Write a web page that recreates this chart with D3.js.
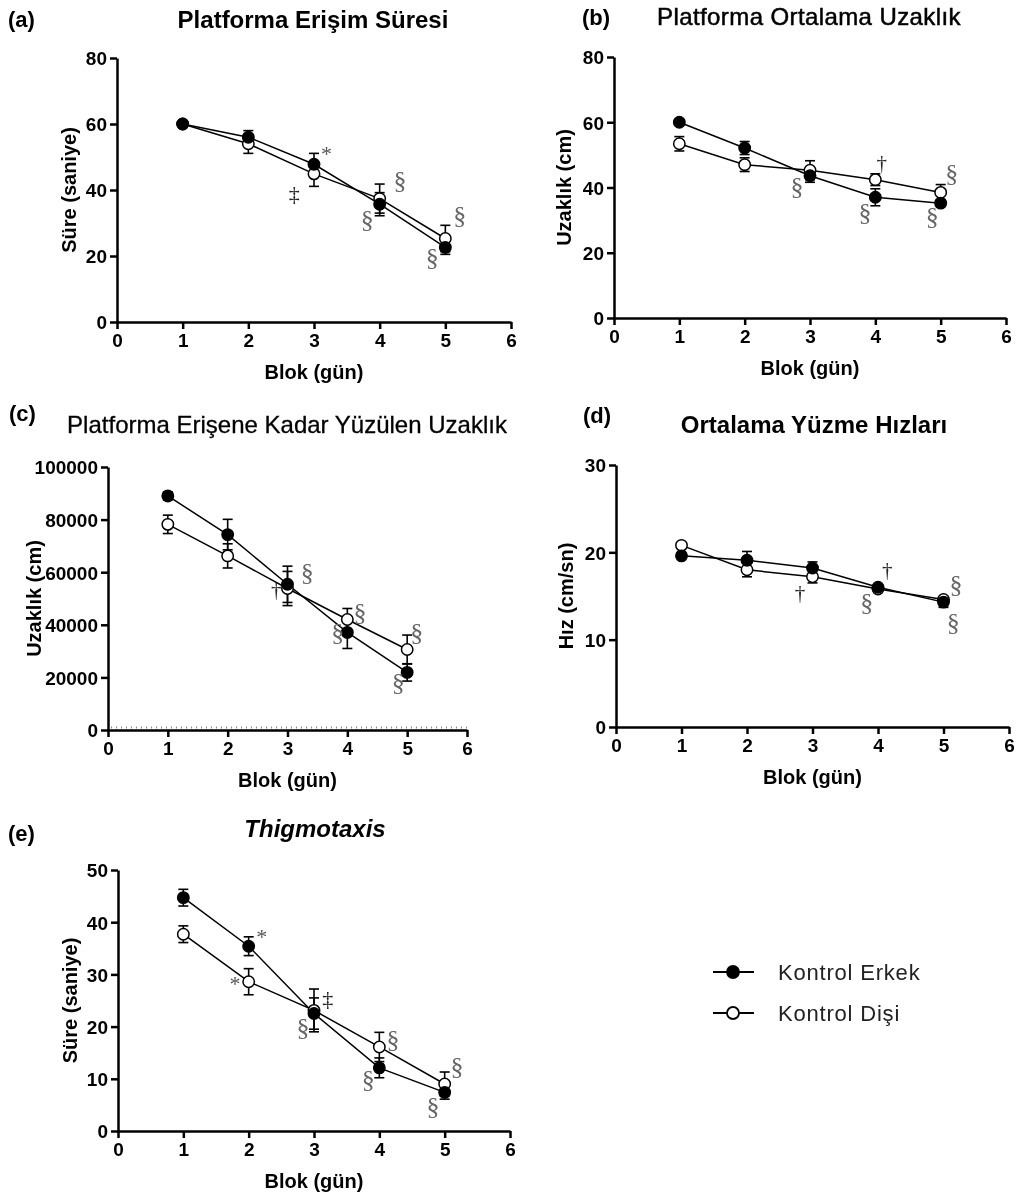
<!DOCTYPE html>
<html>
<head>
<meta charset="utf-8">
<script src="https://cdn.jsdelivr.net/npm/d3@7"></script>
<style>
  body { margin: 0; background: #fff; }
  svg { display: block; filter: grayscale(1); }
</style>
</head>
<body>
<script>
// ---- data: training blocks (days) ----
const blocks = [1, 2, 3, 4, 5];
const xTicks = [0, 1, 2, 3, 4, 5, 6];

// (a) escape latency (s)
const latencyMale = [60, 56.0, 47.8, 35.7, 22.6];
const latencyMaleSem = [0, 2.0, 3.3, 3.5, 2.1];
const latencyFemale = [60, 54.0, 44.9, 37.4, 25.3];
const latencyFemaleSem = [0, 2.9, 3.8, 4.4, 4.0];
const latencyTicks = [0, 20, 40, 60, 80];

// (b) mean distance to platform (cm)
const meanDistMale = [60.0, 52.1, 43.6, 37.0, 35.2];
const meanDistMaleSem = [0.8, 2.0, 2.0, 2.6, 1.0];
const meanDistFemale = [53.4, 47.0, 45.3, 42.4, 38.5];
const meanDistFemaleSem = [2.2, 2.1, 2.9, 1.8, 2.4];
const meanDistTicks = [0, 20, 40, 60, 80];

// (c) path length to platform (cm)
const pathMale = [89000, 74300, 55400, 37100, 21900];
const pathMaleSem = [1500, 5800, 6900, 6100, 3300];
const pathFemale = [78200, 66200, 53800, 42000, 30600];
const pathFemaleSem = [3500, 4600, 6500, 4200, 5500];
const pathTicks = [0, 20000, 40000, 60000, 80000, 100000];

// (d) mean swim speed (cm/s)
const speedMale = [19.6, 19.1, 18.2, 16.0, 14.3];
const speedMaleSem = [0.3, 1.0, 0.7, 0.3, 0.6];
const speedFemale = [20.8, 18.0, 17.2, 15.8, 14.6];
const speedFemaleSem = [0.2, 0.8, 0.7, 0.3, 0.3];
const speedTicks = [0, 10, 20, 30];

// (e) thigmotaxis time (s)
const thigMale = [44.7, 35.4, 22.5, 12.1, 7.4];
const thigMaleSem = [1.6, 1.8, 3.0, 1.9, 1.3];
const thigFemale = [37.7, 28.6, 23.1, 16.1, 9.0];
const thigFemaleSem = [1.6, 2.5, 4.1, 2.8, 2.3];
const thigTicks = [0, 10, 20, 30, 40, 50];

// significance marks: [glyph, block, value]
const notesA = [["*", 3.19, 51], ["‡", 2.70, 39], ["§", 4.31, 43], ["§", 3.81, 31], ["§", 5.22, 32.4], ["§", 4.80, 19.4]];
const notesB = [["§", 2.80, 40.2], ["†", 4.10, 47.5], ["§", 3.84, 32.2], ["§", 5.17, 44.4], ["§", 4.87, 31]];
const notesC = [["§", 3.33, 59700], ["†", 2.81, 53200], ["§", 4.21, 44500], ["§", 3.84, 36900], ["§", 5.16, 36900], ["§", 4.85, 17900]];
const notesD = [["†", 2.81, 15.3], ["†", 4.14, 18.0], ["§", 3.83, 14.3], ["§", 5.19, 16.3], ["§", 5.15, 12.0]];
const notesE = [["*", 2.20, 37.2], ["*", 1.79, 28.2], ["‡", 3.21, 25.3], ["§", 2.83, 19.9], ["§", 4.21, 17.6], ["§", 3.83, 9.8], ["§", 5.19, 12.3], ["§", 4.82, 4.6]];

const seriesNames = ["Kontrol Erkek", "Kontrol Dişi"];

// ---- layout ----
const SANS = "'Liberation Sans', Arial, Helvetica, sans-serif";
const SERIF = "'Liberation Serif', 'Times New Roman', serif";

const panels = [
  { letter: "(a)", letterX: 8, letterY: 27,
    title: "Platforma Erişim Süresi", titleX: 313, titleY: 28, titleWeight: "bold", titleStyle: "normal", titleSpacing: 0,
    left: 117, right: 511, top: 58, bottom: 322, yTicks: latencyTicks,
    yLabel: "Süre (saniye)", yLabelX: 69,
    male: latencyMale, maleSem: latencyMaleSem, female: latencyFemale, femaleSem: latencyFemaleSem, notes: notesA },
  { letter: "(b)", letterX: 582, letterY: 25,
    title: "Platforma Ortalama Uzaklık", titleX: 809, titleY: 25, titleWeight: "normal", titleStyle: "normal", titleSpacing: 0.4, titleStroke: 0.5,
    left: 614, right: 1006, top: 57, bottom: 318, yTicks: meanDistTicks,
    yLabel: "Uzaklık (cm)", yLabelX: 564,
    male: meanDistMale, maleSem: meanDistMaleSem, female: meanDistFemale, femaleSem: meanDistFemaleSem, notes: notesB },
  { letter: "(c)", letterX: 9, letterY: 421,
    title: "Platforma  Erişene Kadar Yüzülen Uzaklık", titleX: 287, titleY: 433, titleWeight: "normal", titleStyle: "normal", titleSpacing: 0, titleStroke: 0.3,
    left: 108, right: 467, top: 467, bottom: 730, yTicks: pathTicks, dottedBase: true,
    yLabel: "Uzaklık (cm)", yLabelX: 34,
    male: pathMale, maleSem: pathMaleSem, female: pathFemale, femaleSem: pathFemaleSem, notes: notesC },
  { letter: "(d)", letterX: 583, letterY: 423,
    title: "Ortalama Yüzme Hızları", titleX: 814, titleY: 433, titleWeight: "bold", titleStyle: "normal", titleSpacing: 0,
    left: 616, right: 1009, top: 465, bottom: 727, yTicks: speedTicks,
    yLabel: "Hız (cm/sn)", yLabelX: 566,
    male: speedMale, maleSem: speedMaleSem, female: speedFemale, femaleSem: speedFemaleSem, notes: notesD },
  { letter: "(e)", letterX: 8, letterY: 841,
    title: "Thigmotaxis", titleX: 315, titleY: 837, titleWeight: "bold", titleStyle: "italic", titleSpacing: 0,
    left: 118, right: 510, top: 870, bottom: 1131, yTicks: thigTicks,
    yLabel: "Süre (saniye)", yLabelX: 70,
    male: thigMale, maleSem: thigMaleSem, female: thigFemale, femaleSem: thigFemaleSem, notes: notesE }
];

const svg = d3.select("body").append("svg")
  .attr("width", 1017).attr("height", 1197)
  .style("font-family", SANS);

const noteColor = { "§": "#666", "*": "#555", "†": "#2a2a2a", "‡": "#222" };
const noteSize = { "§": 26, "*": 22, "†": 21, "‡": 22 };

panels.forEach(p => {
  const g = svg.append("g");
  const x = d3.scaleLinear().domain([0, 6]).range([p.left, p.right]);
  const y = d3.scaleLinear().domain([0, d3.max(p.yTicks)]).range([p.bottom, p.top]);

  // panel letter and title
  g.append("text").attr("x", p.letterX).attr("y", p.letterY)
    .attr("font-size", 22).attr("font-weight", "bold").text(p.letter);
  const t = g.append("text").attr("x", p.titleX).attr("y", p.titleY)
    .attr("text-anchor", "middle").attr("font-size", 24)
    .attr("font-weight", p.titleWeight).attr("font-style", p.titleStyle)
    .attr("letter-spacing", p.titleSpacing)
    .text(p.title);
  if (p.titleStroke) t.attr("stroke", "#000").attr("stroke-width", p.titleStroke);

  // axes
  const xAxis = g.append("g").attr("transform", `translate(0,${p.bottom})`)
    .call(d3.axisBottom(x).tickValues(xTicks).tickFormat(d3.format("d"))
      .tickSize(7).tickSizeOuter(0).tickPadding(5));
  const yAxis = g.append("g").attr("transform", `translate(${p.left},0)`)
    .call(d3.axisLeft(y).tickValues(p.yTicks).tickFormat(d3.format("d"))
      .tickSize(7).tickSizeOuter(0).tickPadding(3));
  [xAxis, yAxis].forEach(a => {
    a.select(".domain").attr("stroke", "#000").attr("stroke-width", 2.5);
    a.selectAll(".tick line").attr("stroke", "#000").attr("stroke-width", 2.5);
    a.selectAll(".tick text").attr("fill", "#000")
      .attr("font-size", 19).attr("font-weight", "bold").attr("font-family", SANS);
  });
  yAxis.selectAll(".tick text").attr("dy", "0.36em");

  if (p.dottedBase) {
    g.append("line").attr("x1", p.left + 3).attr("x2", p.right)
      .attr("y1", p.bottom - 2.5).attr("y2", p.bottom - 2.5)
      .attr("stroke", "#8a8a8a").attr("stroke-width", 2).attr("stroke-dasharray", "1,4");
  }

  // axis titles
  g.append("text").attr("x", (p.left + p.right) / 2).attr("y", p.bottom + 57)
    .attr("text-anchor", "middle").attr("font-size", 20).attr("font-weight", "bold")
    .text("Blok (gün)");
  g.append("text")
    .attr("transform", `translate(${p.yLabelX},${(p.top + p.bottom) / 2}) rotate(-90)`)
    .attr("text-anchor", "middle").attr("dominant-baseline", "central")
    .attr("font-size", 20).attr("font-weight", "bold")
    .text(p.yLabel);

  const series = [
    { vals: p.female, sem: p.femaleSem, fill: "#fff" },
    { vals: p.male, sem: p.maleSem, fill: "#000" }
  ];
  const line = d3.line().x((d, i) => x(blocks[i])).y(d => y(d));

  // connecting lines
  series.forEach(s => {
    g.append("path").datum(s.vals).attr("d", line)
      .attr("fill", "none").attr("stroke", "#000").attr("stroke-width", 1.5);
  });

  // error bars (mean ± SEM)
  series.forEach(s => {
    s.vals.forEach((v, i) => {
      if (!s.sem[i]) return;
      const cx = x(blocks[i]);
      const y1 = y(v - s.sem[i]), y2 = y(v + s.sem[i]);
      const eg = g.append("g").attr("stroke", "#000").attr("stroke-width", 1.6);
      eg.append("line").attr("x1", cx).attr("x2", cx).attr("y1", y1).attr("y2", y2);
      eg.append("line").attr("x1", cx - 5).attr("x2", cx + 5).attr("y1", y1).attr("y2", y1);
      eg.append("line").attr("x1", cx - 5).attr("x2", cx + 5).attr("y1", y2).attr("y2", y2);
    });
  });

  // markers
  series.forEach(s => {
    g.selectAll(null).data(s.vals).enter().append("circle")
      .attr("cx", (d, i) => x(blocks[i])).attr("cy", d => y(d))
      .attr("r", 5.7).attr("fill", s.fill)
      .attr("stroke", "#000").attr("stroke-width", 1.5);
  });

  // significance marks
  p.notes.forEach(([glyph, bx, v]) => {
    g.append("text").attr("x", x(bx)).attr("y", y(v))
      .attr("text-anchor", "middle").attr("dominant-baseline", "central")
      .attr("font-family", SERIF).attr("font-size", noteSize[glyph])
      .attr("fill", noteColor[glyph]).text(glyph);
  });
});

// legend
const legend = svg.append("g");
const legendRows = [{ name: seriesNames[0], fill: "#000", y: 972 }, { name: seriesNames[1], fill: "#fff", y: 1013 }];
legendRows.forEach(r => {
  legend.append("line").attr("x1", 713).attr("x2", 754).attr("y1", r.y).attr("y2", r.y)
    .attr("stroke", "#000").attr("stroke-width", 2);
  legend.append("circle").attr("cx", 733).attr("cy", r.y).attr("r", 6)
    .attr("fill", r.fill).attr("stroke", "#000").attr("stroke-width", 1.8);
  legend.append("text").attr("x", 778).attr("y", r.y).attr("dominant-baseline", "central")
    .attr("font-size", 22).attr("fill", "#222").attr("letter-spacing", 0.8).text(r.name);
});
</script>
</body>
</html>
